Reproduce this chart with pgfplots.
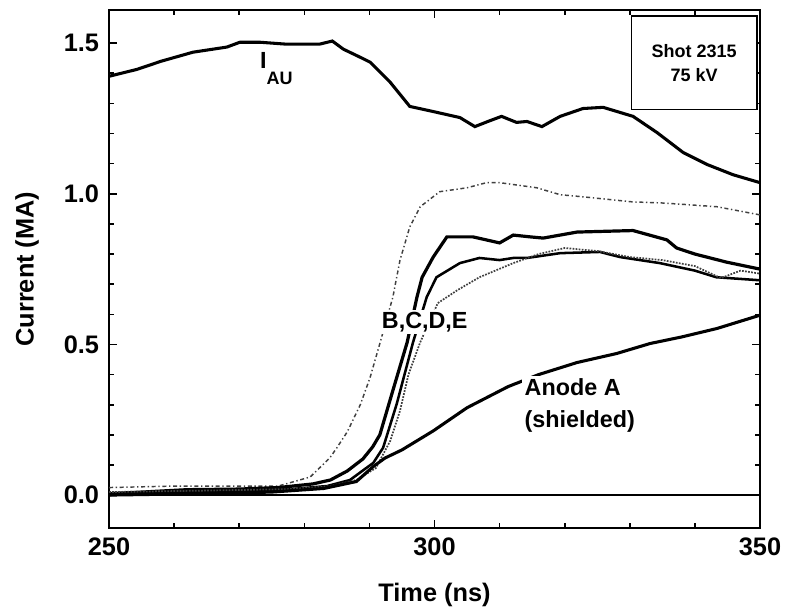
\documentclass[border=0pt]{standalone}
\usepackage{fontspec}
\setmainfont{Liberation Sans}
\usepackage{pgfplots}
\pgfplotsset{compat=1.18}

% current traces
\pgfplotstableread{
t     i
250   1.39
254.3 1.413
258   1.44
262.9 1.47
268.1 1.487
270.1 1.503
273.2 1.503
277   1.497
282.4 1.497
284.3 1.507
286   1.48
288.6 1.453
290.1 1.437
293.2 1.37
296.2 1.29
299.8 1.273
303.9 1.253
306.2 1.223
308.2 1.24
310.3 1.257
312.6 1.237
314.2 1.24
316.5 1.223
319.3 1.257
322.8 1.283
325.9 1.287
330.5 1.257
334.2 1.203
338.2 1.137
341.9 1.097
345.9 1.063
350   1.037
}\iau

\pgfplotstableread{
t     i
250   0.025
260   0.03
270   0.03
276   0.03
280.9 0.06
283.9 0.123
285   0.157
286.6 0.21
288.6 0.30
290.1 0.39
291.6 0.503
293.6 0.657
294.7 0.78
296.2 0.89
297.8 0.957
300.8 1.007
305   1.02
308   1.037
310   1.037
315.7 1.02
319.3 0.997
322.8 0.99
330.5 0.973
334.6 0.97
338.2 0.965
343.4 0.957
350   0.93
}\traceB

\pgfplotstableread{
t     i
250   0.005
255   0.01
262   0.018
270   0.02
276   0.025
281.3 0.037
284   0.05
286.6 0.08
289   0.12
290.5 0.16
291.6 0.20
293.6 0.347
295.8 0.507
297.3 0.657
298.1 0.723
299.8 0.79
301.9 0.857
305.9 0.857
310   0.837
312.1 0.863
314.7 0.857
316.7 0.853
321.9 0.873
330.5 0.878
335.7 0.847
337.2 0.82
340   0.80
344.9 0.773
350   0.75
}\traceC

\pgfplotstableread{
t     i
250   0.0
260   0.01
270   0.015
278   0.02
283.5 0.03
287   0.05
290.6 0.107
292.1 0.157
294.2 0.303
296.7 0.507
298.8 0.657
300.3 0.723
303.9 0.77
306.9 0.787
310   0.78
312.1 0.787
314.2 0.787
319.3 0.803
325.4 0.807
328.5 0.79
334.6 0.77
340   0.745
343.3 0.723
350   0.713
}\traceD

\pgfplotstableread{
t     i
250   0.01
265   0.015
278   0.02
284   0.03
288   0.05
291   0.09
293.2 0.18
294.7 0.28
296   0.40
297.8 0.507
300.5 0.637
303.5 0.68
306.9 0.723
312.1 0.77
316   0.80
320   0.82
325   0.81
330   0.79
335   0.78
340   0.76
344   0.72
347   0.745
350   0.735
}\traceE

\pgfplotstableread{
t     i
250   0.0
265   0.005
275   0.01
283   0.022
288   0.045
290.6 0.095
292.4 0.123
295   0.15
299.8 0.213
305   0.29
311.3 0.36
316   0.40
321.9 0.44
328   0.47
333.1 0.503
338   0.525
343.4 0.553
350   0.597
}\anodeA

\begin{document}
\begin{tikzpicture}
\begin{axis}[
    width=488pt, height=388.5pt, scale only axis,
    xmin=250, xmax=350, ymin=-0.11, ymax=1.61,
    xtick={250,300,350}, ytick={0,0.5,1,1.5},
    minor x tick num=4, minor y tick num=4,
    major tick length=6pt, minor tick length=4pt,
    tick style={black, line width=1.2pt},
    axis line style={line width=1.6pt},
    /pgf/number format/assume math mode=true,
    yticklabel style={/pgf/number format/fixed, /pgf/number format/fixed zerofill,
        /pgf/number format/precision=1, xshift=-4pt},
    xticklabel style={yshift=-4pt},
    ticklabel style={font=\fontsize{19}{22}\selectfont\bfseries},
    label style={font=\fontsize{19}{22}\selectfont\bfseries},
    xlabel={Time (ns)}, ylabel={Current (MA)},
    xlabel style={at={([yshift=-50pt]axis description cs:0.5,0)}, anchor=center},
    ylabel style={at={([xshift=-61.5pt]axis description cs:0,0.5)}, anchor=center},
    clip=false,
]
\addplot[black, line width=1.1pt] coordinates {(250,0) (350,0)};
\addplot[black, line width=2.3pt] table {\iau};
\addplot[black!75, line width=1.1pt, dash pattern=on 3pt off 2pt on 1pt off 2pt] table {\traceB};
\addplot[black, line width=2.4pt] table {\traceC};
\addplot[black, line width=1.9pt] table {\traceD};
\addplot[black!75, line width=1.3pt, densely dotted] table {\traceE};
\addplot[black, line width=2.3pt] table {\anodeA};

\node[anchor=west, font=\fontsize{17.5}{20}\selectfont\bfseries]
    at (axis cs:272.5,1.415) {I\raisebox{-12pt}{\fontsize{13.5}{14}\selectfont AU}};
\node[fill=white, inner sep=1.5pt, font=\fontsize{17.5}{20}\selectfont\bfseries]
    at (axis cs:298.5,0.573) {B,C,D,E};
\node[fill=white, inner sep=2pt, anchor=north west, align=left,
      font=\fontsize{17.5}{24}\selectfont\bfseries]
    at (axis cs:313.4,0.395) {Anode A\\(shielded)};
\node[draw, fill=white, line width=1.2pt, minimum width=94pt, minimum height=70pt,
      align=center, font=\fontsize{13.5}{18}\selectfont\bfseries]
    at (axis cs:339.9,1.435) {Shot 2315\\75 kV};
\end{axis}
\path (-81.75pt,-63pt) rectangle (515pt,396pt);
\end{tikzpicture}
\end{document}
